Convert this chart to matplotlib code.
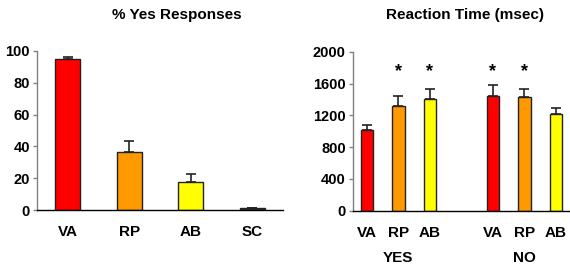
import matplotlib
matplotlib.use("Agg")
import matplotlib.pyplot as plt
from matplotlib.transforms import blended_transform_factory

plt.rcParams['font.family'] = ['Liberation Sans', 'DejaVu Sans']
plt.rcParams['font.weight'] = 'bold'

# Left panel: % Yes Responses
yes_cats = ["VA", "RP", "AB", "SC"]
yes_vals = [94.8, 36.3, 17.8, 1.0]
yes_err = [1.6, 7.1, 4.6, 0.4]
yes_colors = ["#FF0000", "#FF9900", "#FFFF00", "#333333"]

# Right panel: Reaction Time (msec)
rt_cats = ["VA", "RP", "AB", "VA", "RP", "AB"]
rt_pos = [0, 1, 2, 4, 5, 6]
rt_vals = [1015, 1317, 1409, 1443, 1434, 1213]
rt_err = [63, 126, 118, 138, 93, 83]
rt_colors = ["#FF0000", "#FF9900", "#FFFF00", "#FF0000", "#FF9900", "#FFFF00"]
rt_sig = [False, True, True, True, True, False]
group_labels = ["YES", "NO"]
group_pos = [1, 5]

fig = plt.figure(figsize=(5.7, 2.66), dpi=100)

def style(ax):
    for s in ("top", "right"):
        ax.spines[s].set_visible(False)
    ax.spines["left"].set_color("#808080")
    ax.spines["left"].set_linewidth(1.0)
    ax.spines["bottom"].set_color("black")
    ax.spines["bottom"].set_linewidth(1.0)
    ax.tick_params(axis="y", direction="out", length=3, width=1, color="#808080",
                   labelsize=10.5, pad=2)
    ax.tick_params(axis="x", length=0, labelsize=11, pad=11)
    for lab in ax.get_xticklabels() + ax.get_yticklabels():
        lab.set_fontweight("bold")

ax1 = fig.add_axes([0.0649, 0.2105, 0.4316, 0.5978])
ax1.bar(range(len(yes_cats)), yes_vals, width=0.41, color=yes_colors,
        edgecolor="#222222", linewidth=1.0, zorder=2)
ax1.errorbar(range(len(yes_cats)), yes_vals, yerr=[[0]*len(yes_err), yes_err],
             fmt="none", ecolor="#222222", elinewidth=1.2, capsize=3.5, capthick=1.2, zorder=1)
ax1.set_xlim(-0.5, 3.5)
ax1.set_ylim(0, 100)
ax1.set_yticks([0, 20, 40, 60, 80, 100])
ax1.set_xticks(range(len(yes_cats)))
ax1.set_xticklabels(yes_cats)
style(ax1)
fig.text(177/570, 1 - 15/266, "% Yes Responses", ha="center", va="center",
         fontsize=11, fontweight="bold")

ax2 = fig.add_axes([0.6188, 0.2079, 0.3812, 0.5977])
ax2.bar(rt_pos, rt_vals, width=0.4, color=rt_colors,
        edgecolor="#222222", linewidth=1.0, zorder=2)
ax2.errorbar(rt_pos, rt_vals, yerr=[[0]*len(rt_err), rt_err],
             fmt="none", ecolor="#222222", elinewidth=1.2, capsize=3.5, capthick=1.2, zorder=1)
ax2.set_xlim(-0.45, 6.45)
ax2.set_ylim(0, 2000)
ax2.set_yticks([0, 400, 800, 1200, 1600, 2000])
ax2.set_xticks(rt_pos)
ax2.set_xticklabels(rt_cats)
style(ax2)
for p, s in zip(rt_pos, rt_sig):
    if s:
        ax2.text(p, 1745, "*", ha="center", va="center", fontsize=13, fontweight="bold")
tr = blended_transform_factory(ax2.transData, fig.transFigure)
for gp, gl in zip(group_pos, group_labels):
    ax2.text(gp, 1 - 258/266, gl, transform=tr, ha="center", va="center",
             fontsize=11, fontweight="bold")
fig.text(465/570, 1 - 15/266, "Reaction Time (msec)", ha="center", va="center",
         fontsize=11, fontweight="bold")

fig.savefig("out.png", dpi=100)
